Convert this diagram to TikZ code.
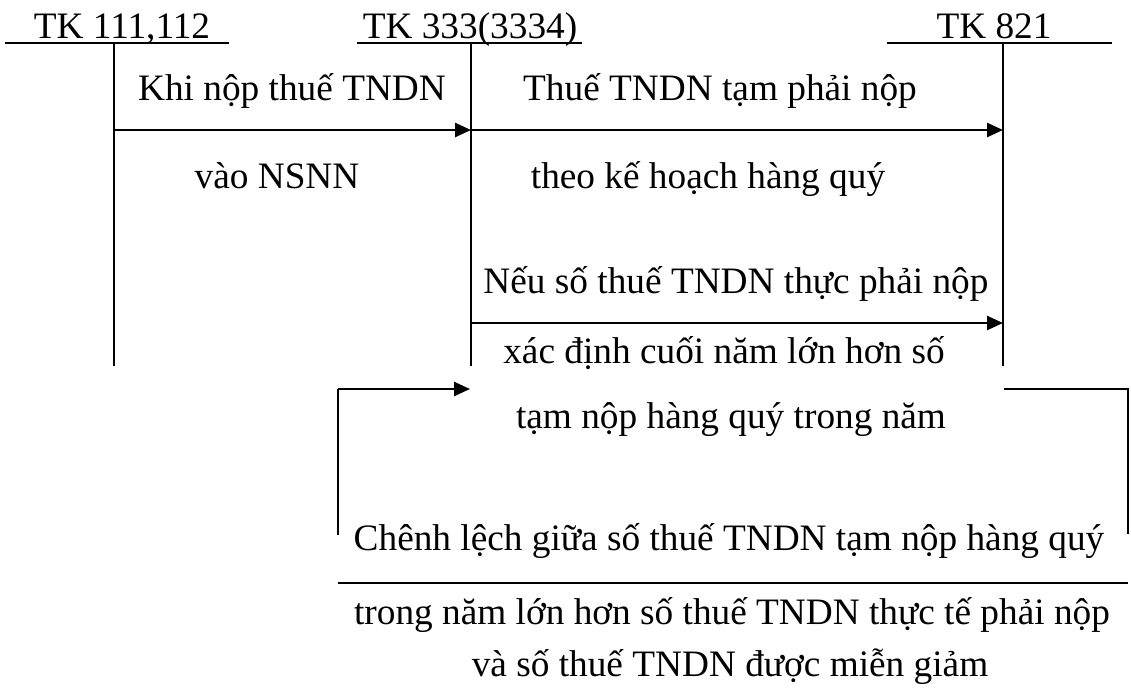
\documentclass[tikz,border=0pt]{standalone}
\usepackage{fontspec}
\setmainfont{Liberation Serif}
\usetikzlibrary{arrows.meta}
\begin{document}
\begin{tikzpicture}[x=1pt,y=-1pt,
  acct/.style={line width=1.7pt},
  flow/.style={line width=2.5pt,-{Triangle[length=16pt,width=14pt]}},
  lbl/.style={anchor=base,inner sep=0pt,font=\fontsize{37.3pt}{41pt}\selectfont}]
\useasboundingbox (0,0) rectangle (1131,691);
% account headers
\node[lbl] (h1) at (122,38) {TK 111,112};
\node[lbl] (h2) at (470,38) {TK 333(3334)};
\node[lbl] (h3) at (994,38) {TK 821};
% T-account rulings
\coordinate (u1a) at (5,43);   \coordinate (u1b) at (229,43);
\coordinate (u2a) at (357,43); \coordinate (u2b) at (582,43);
\coordinate (u3a) at (887,43); \coordinate (u3b) at (1112,43);
\draw[acct] (u1a) -- (u1b);
\draw[acct] (u2a) -- (u2b);
\draw[acct] (u3a) -- (u3b);
\coordinate (v1t) at (114,43);  \coordinate (v1b) at (114,366);
\coordinate (v2t) at (471,43);  \coordinate (v2b) at (471,366);
\coordinate (v3t) at (1003,43); \coordinate (v3b) at (1003,366);
\draw[acct] (v1t) -- (v1b);
\draw[acct] (v2t) -- (v2b);
\draw[acct] (v3t) -- (v3b);
% entries
\coordinate (a1s) at (114,130); \coordinate (a1e) at (471,130);
\coordinate (a2e) at (1003,130);
\coordinate (a3s) at (471,323); \coordinate (a3e) at (1003,323);
\draw[flow] (a1s) -- (a1e);
\draw[flow] (a1e) -- (a2e);
\draw[flow] (a3s) -- (a3e);
% reversal bracket
\coordinate (bL) at (338,535); \coordinate (bLt) at (338,389);
\coordinate (bTip) at (470,389);
\coordinate (bR) at (1128,534); \coordinate (bRt) at (1128,389);
\coordinate (bRs) at (1004,389);
\draw[acct] (bL) -- (bLt);
\draw[flow] (bLt) -- (bTip);
\draw[acct] (bRs) -- (bRt) -- (bR);
\coordinate (hl) at (338,583); \coordinate (hr) at (1128,583);
\draw[acct] (hl) -- (hr);
% labels
\node[lbl] (t1) at (292,100) {Khi nộp thuế TNDN};
\node[lbl] (t2) at (277,188) {vào NSNN};
\node[lbl] (t3) at (720,100) {Thuế TNDN tạm phải nộp};
\node[lbl] (t4) at (708,188) {theo kế hoạch hàng quý};
\node[lbl] (t5) at (736,293) {Nếu số thuế TNDN thực phải nộp};
\node[lbl] (t6) at (724,363) {xác định cuối năm lớn hơn số};
\node[lbl] (t7) at (731,428) {tạm nộp hàng quý trong năm};
\node[lbl] (t8) at (729,550) {Chênh lệch giữa số thuế TNDN tạm nộp hàng quý};
\node[lbl] (t9) at (732,624) {trong năm lớn hơn số thuế TNDN thực tế phải nộp};
\node[lbl] (t10) at (730,676) {và số thuế TNDN được miễn giảm};
\end{tikzpicture}
\end{document}
